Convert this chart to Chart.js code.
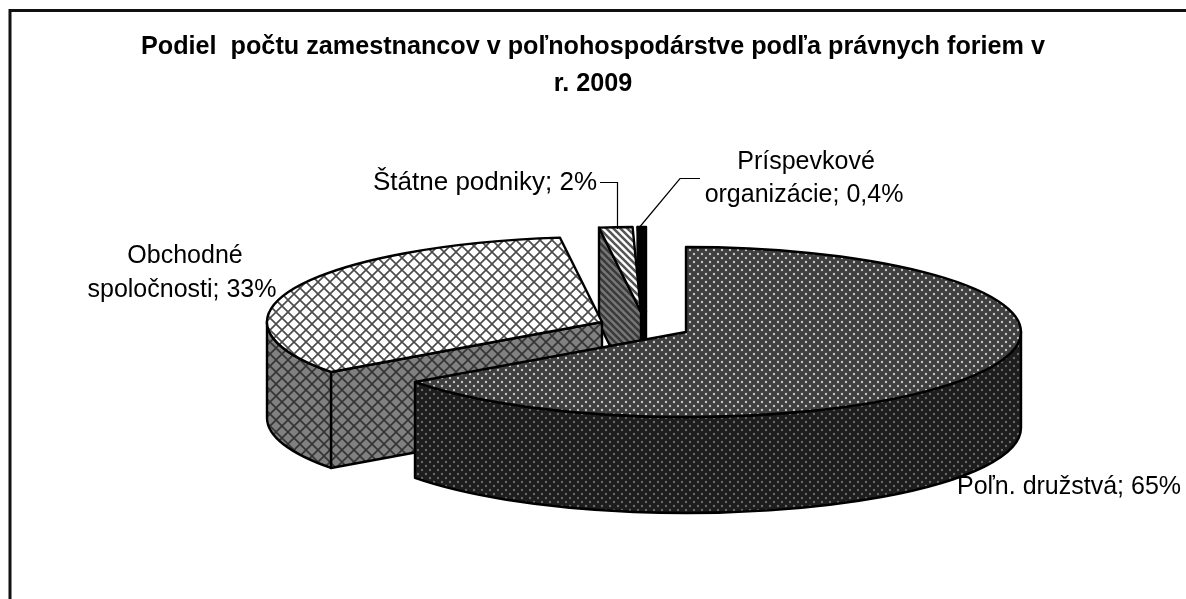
<!DOCTYPE html>
<html>
<head>
<meta charset="utf-8">
<script src="https://cdn.jsdelivr.net/npm/chart.js@4/dist/chart.umd.js"></script>
<style>
  html, body { margin: 0; padding: 0; background: #fff; overflow: hidden; }
  canvas { display: block; }
</style>
</head>
<body>
<canvas id="pie3d" width="1186" height="599"></canvas>
<script>
const titleLines = ['Podiel  počtu zamestnancov v poľnohospodárstve podľa právnych foriem v', 'r. 2009'];
const categories = ['Poľn. družstvá', 'Obchodné spoločnosti', 'Štátne podniky', 'Príspevkové organizácie'];
const shares = [65, 33, 1.6, 0.4];
const shareLabels = ['65%', '33%', '2%', '0,4%'];

// where the exploded slices sit on the page, the library only gives us the angles
const RX = 335, RY = 85, DEPTH = 96;
const sliceCentres = [[686, 332], [602, 322], [641, 312], [646, 312]];

function tile(size, bg, paint) {
    const c = document.createElement('canvas');
    c.width = c.height = size;
    const g = c.getContext('2d');
    g.fillStyle = bg;
    g.fillRect(0, 0, size, size);
    paint(g);
    return document.createElement('canvas').getContext('2d').createPattern(c, 'repeat');
}
function dots(bg, fg) {
    return tile(8, bg, g => {
        g.fillStyle = fg;
        g.beginPath();
        g.arc(2, 2, 1.2, 0, Math.PI * 2);
        g.arc(6, 6, 1.2, 0, Math.PI * 2);
        g.fill();
    });
}
function hatch(bg, fg) {
    return tile(12, bg, g => {
        g.strokeStyle = fg;
        g.lineWidth = 1.6;
        g.beginPath();
        g.moveTo(0, 0); g.lineTo(12, 12);
        g.moveTo(0, 12); g.lineTo(12, 0);
        g.stroke();
    });
}
function stripes(bg, fg) {
    return tile(7, bg, g => {
        g.strokeStyle = fg;
        g.lineWidth = 2.6;
        g.beginPath();
        g.moveTo(-7, -7); g.lineTo(14, 14);
        g.moveTo(0, -7); g.lineTo(14, 7);
        g.moveTo(-7, 0); g.lineTo(7, 14);
        g.stroke();
    });
}

const topFills = [dots('#3f3f3f', '#c4c4c4'), hatch('#ffffff', '#4a4a4a'), stripes('#ffffff', '#555555'), '#000000'];
const wallFills = [dots('#1d1d1d', '#6a6a6a'), hatch('#808080', '#333333'), stripes('#777777', '#3a3a3a'), '#000000'];

function strokeFill(ctx, fill) {
    ctx.fillStyle = fill;
    ctx.fill();
    ctx.lineWidth = 2.4;
    ctx.strokeStyle = '#000';
    ctx.lineJoin = 'round';
    ctx.stroke();
}

function drawWalls(ctx, arc, i) {
    const [cx, cy] = sliceCentres[i];
    const a0 = arc.startAngle, a1 = arc.endAngle;
    // cut faces that look towards the viewer
    [[a0, Math.cos(a0) < -1e-6], [a1, Math.cos(a1) > 1e-6]].forEach(([a, visible]) => {
        if (!visible) return;
        const ex = cx + RX * Math.cos(a), ey = cy + RY * Math.sin(a);
        ctx.beginPath();
        ctx.moveTo(cx, cy);
        ctx.lineTo(ex, ey);
        ctx.lineTo(ex, ey + DEPTH);
        ctx.lineTo(cx, cy + DEPTH);
        ctx.closePath();
        strokeFill(ctx, wallFills[i]);
    });
    // rim, only the front half of the ellipse shows
    const t0 = Math.max(a0, 0), t1 = Math.min(a1, Math.PI);
    if (t1 > t0) {
        ctx.beginPath();
        ctx.ellipse(cx, cy, RX, RY, 0, t0, t1);
        ctx.ellipse(cx, cy + DEPTH, RX, RY, 0, t1, t0, true);
        ctx.closePath();
        strokeFill(ctx, wallFills[i]);
    }
}

function drawTop(ctx, arc, i) {
    const [cx, cy] = sliceCentres[i];
    const k = RX / arc.outerRadius, m = RY / arc.outerRadius;
    ctx.save();
    ctx.translate(cx, cy);
    ctx.scale(k, m);
    ctx.translate(-arc.x, -arc.y);
    const fill = arc.options.backgroundColor;
    if (fill instanceof CanvasPattern) fill.setTransform(ctx.getTransform().inverse());
    arc.draw(ctx);
    ctx.restore();
    ctx.beginPath();
    ctx.moveTo(cx, cy);
    ctx.ellipse(cx, cy, RX, RY, 0, arc.startAngle, arc.endAngle);
    ctx.closePath();
    ctx.lineWidth = 2.4;
    ctx.strokeStyle = '#000';
    ctx.lineJoin = 'round';
    ctx.stroke();
}

const pie3d = {
    id: 'pie3d',
    beforeDraw(chart) {
        const ctx = chart.ctx;
        ctx.save();
        ctx.strokeStyle = '#111';
        ctx.lineWidth = 3;
        ctx.beginPath();
        ctx.moveTo(10, 599);
        ctx.lineTo(10, 10.5);
        ctx.lineTo(1186, 10.5);
        ctx.stroke();
        ctx.restore();
    },
    beforeDatasetsDraw(chart) {
        const ctx = chart.ctx;
        const arcs = chart.getDatasetMeta(0).data;
        // back to front
        for (let i = arcs.length - 1; i >= 0; i--) {
            ctx.save();
            drawWalls(ctx, arcs[i], i);
            drawTop(ctx, arcs[i], i);
            ctx.restore();
        }
        drawLabels(ctx);
        return false;
    }
};

function drawLabels(ctx) {
    ctx.save();
    ctx.fillStyle = '#000';
    ctx.font = '25px "Liberation Sans"';
    ctx.textAlign = 'center';
    ctx.textBaseline = 'alphabetic';
    ctx.fillText(categories[0] + '; ' + shareLabels[0], 1069, 494);
    ctx.fillText('Obchodné', 185, 263);
    ctx.fillText('spoločnosti; ' + shareLabels[1], 182, 297);
    ctx.font = '26px "Liberation Sans"';
    ctx.fillText(categories[2] + '; ' + shareLabels[2], 485, 190);
    ctx.font = '25px "Liberation Sans"';
    ctx.fillText('Príspevkové', 806, 169);
    ctx.fillText('organizácie; ' + shareLabels[3], 804, 202);
    // leader lines
    ctx.strokeStyle = '#000';
    ctx.lineWidth = 1.2;
    ctx.beginPath();
    ctx.moveTo(600, 182.5); ctx.lineTo(617.5, 182.5); ctx.lineTo(617.5, 229);
    ctx.moveTo(700, 178.5); ctx.lineTo(680, 178.5); ctx.lineTo(638, 229);
    ctx.stroke();
    ctx.restore();
}

new Chart(document.getElementById('pie3d'), {
    type: 'pie',
    data: {
        labels: categories,
        datasets: [{
            data: shares,
            backgroundColor: topFills,
            borderWidth: 0
        }]
    },
    options: {
        responsive: false,
        animation: false,
        plugins: {
            legend: { display: false },
            tooltip: { enabled: false },
            title: {
                display: true,
                text: titleLines,
                color: '#000',
                font: { family: '"Liberation Sans"', size: 25.2, weight: 'bold', lineHeight: 1.46 },
                padding: { top: 29, bottom: 0 }
            }
        }
    },
    plugins: [pie3d]
});
</script>
</body>
</html>
